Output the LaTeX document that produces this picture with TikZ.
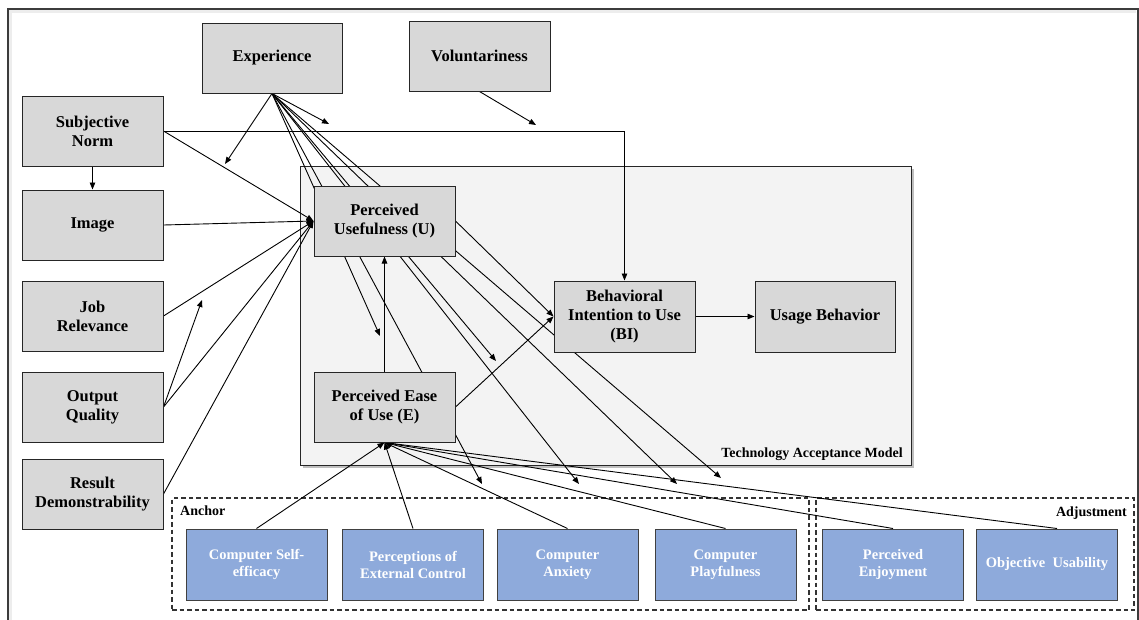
\documentclass[tikz,border=0pt]{standalone}
\usepackage{fontspec}
\setmainfont{Liberation Serif}
\usetikzlibrary{arrows.meta}
\pgfdeclarelayer{back}
\pgfdeclarelayer{wires}
\pgfsetlayers{back,wires,main}
\definecolor{boxgray}{HTML}{D8D8D8}
\definecolor{tamgray}{HTML}{F3F3F3}
\definecolor{factorblue}{HTML}{8EAADB}
\definecolor{framegray}{HTML}{3C3C3C}

\tikzset{
  construct/.style={draw=black!85, fill=boxgray, line width=1pt,
    minimum width=141pt, minimum height=70pt, inner sep=0pt, align=center,
    font=\bfseries\fontsize{16.5}{19}\selectfont},
  factor/.style={draw=black!75, fill=factorblue, line width=1pt,
    minimum width=141pt, minimum height=71pt, inner sep=0pt, align=center,
    text=white, font=\bfseries\fontsize{14.5}{17}\selectfont},
  link/.style={line width=0.9pt, -{Triangle[length=7pt,width=5.5pt]}},
  groupbox/.style={draw=black!80, dash pattern=on 4.5pt off 3pt, line width=1.2pt},
  grouplabel/.style={font=\bfseries\fontsize{14}{17}\selectfont, inner sep=0pt},
}

\begin{document}
\begin{tikzpicture}[x=1pt,y=-1pt]
\useasboundingbox (0,0) rectangle (1139,619);

% left column of determinants
\node[construct] (sn)  at (92.5,131) {Subjective\\Norm};
\node[construct] (img) at (92.5,225) {Image};
\node[construct] (jr)  at (92.5,316) {Job\\Relevance};
\node[construct] (oq)  at (92.5,407) {Output\\Quality};
\node[construct] (rd)  at (92.5,494) {Result\\Demonstrability};

% moderators on top
\node[construct, minimum width=140pt] (exp) at (272,58) {Experience};
\node[construct] (vol) at (479.5,56) {Voluntariness};

% core TAM constructs
\node[construct] (pu)   at (384.5,221) {Perceived\\Usefulness (U)};
\node[construct] (peou) at (384.5,407) {Perceived Ease\\of Use (E)};
\node[construct, minimum height=71pt] (bi) at (624.5,316.5) {Behavioral\\Intention to Use\\(BI)};
\node[construct, minimum width=140pt, minimum height=71pt] (ub) at (825,316.5) {Usage Behavior};

% anchors and adjustments
\node[factor] (cse) at (256.5,564.5) {Computer Self-\\efficacy};
\node[factor] (pec) at (413,564.5)   {Perceptions of\\External Control};
\node[factor] (ca)  at (567.5,564.5) {Computer\\Anxiety};
\node[factor] (cp)  at (725.5,564.5) {Computer\\Playfulness};
\node[factor] (pe)  at (893,564.5)   {Perceived\\Enjoyment};
\node[factor] (ou)  at (1047,564.5)  {Objective\ \ Usability};

% free ends of the moderating arrows
\coordinate (mSNPU)  at (225,164);
\coordinate (mSNBI)  at (329,124);
\coordinate (mVol)   at (536,125);
\coordinate (mJR)    at (202,300);
\coordinate (mEU)    at (380,336);
\coordinate (mEBI)   at (496,361);
\coordinate (mCA)    at (482,484);
\coordinate (mCP)    at (579,484);
\coordinate (mPE)    at (677,484);
\coordinate (mOU)    at (721,478);

\begin{pgfonlayer}{back}
  % page frame
  \draw[line width=3pt, black!7] (10.5,640) -- (10.5,11.5) -- (1136,11.5);
  \draw[line width=1.5pt, framegray] (8,640) -- (8,9) -- (1138,9) -- (1138,640);
  % model frame with its shadow
  \fill[black!25] (302.5,168.5) rectangle (913.5,467.5);
  \node[draw=black!85, fill=tamgray, line width=1pt, minimum width=611pt,
        minimum height=299pt, inner sep=0pt] (tam) at (605.5,315.5) {};
  \node[grouplabel, anchor=base east] (tamlabel) at (903,457) {Technology Acceptance Model};
  % anchor and adjustment groups
  \node[groupbox, minimum width=637pt, minimum height=112pt, inner sep=0pt] (anchorgrp) at (490.5,554) {};
  \node[groupbox, minimum width=318pt, minimum height=112pt, inner sep=0pt] (adjgrp) at (975,554) {};
  \node[grouplabel, anchor=base west] (anchorlabel) at (180,515) {Anchor};
  \node[grouplabel, anchor=base east] (adjlabel) at (1127,516) {Adjustment};
\end{pgfonlayer}

\begin{pgfonlayer}{wires}
  % determinants of perceived usefulness
  \draw[link] (sn.south) -- (img.north);
  \draw[link] (sn.east) -- (pu.west);
  \draw[link] (img.east) -- (pu.west);
  \draw[link] (jr.east) -- (pu.west);
  \draw[link] (oq.east) -- (pu.west);
  \draw[link] (rd.east) -- (pu.west);
  \draw[link] (oq.east) -- (mJR);
  \draw[link] (sn.east) -| (bi.north);
  \draw[link] (vol.south) -- (mVol);
  % experience as moderator
  \draw[link] (exp.south) -- (mSNPU);
  \draw[link] (exp.south) -- (mSNBI);
  \draw[link] (exp.south) -- (mEU);
  \draw[link] (exp.south) -- (mEBI);
  \draw[link] (exp.south) -- (mCA);
  \draw[link] (exp.south) -- (mCP);
  \draw[link] (exp.south) -- (mPE);
  \draw[link] (exp.south) -- (mOU);
  % core model
  \draw[link] (peou.north) -- (pu.south);
  \draw[link] (pu.east) -- (bi.west);
  \draw[link] (peou.east) -- (bi.west);
  \draw[link] (bi.east) -- (ub.west);
  % determinants of perceived ease of use
  \draw[link] (cse.north) -- (peou.south);
  \draw[link] (pec.north) -- (peou.south);
  \draw[link] (ca.north) -- (peou.south);
  \draw[link] (cp.north) -- (peou.south);
  \draw[link] (pe.north) -- (peou.south);
  \draw[link] ([xshift=10pt]ou.north) -- (peou.south);
\end{pgfonlayer}
\end{tikzpicture}
\end{document}
